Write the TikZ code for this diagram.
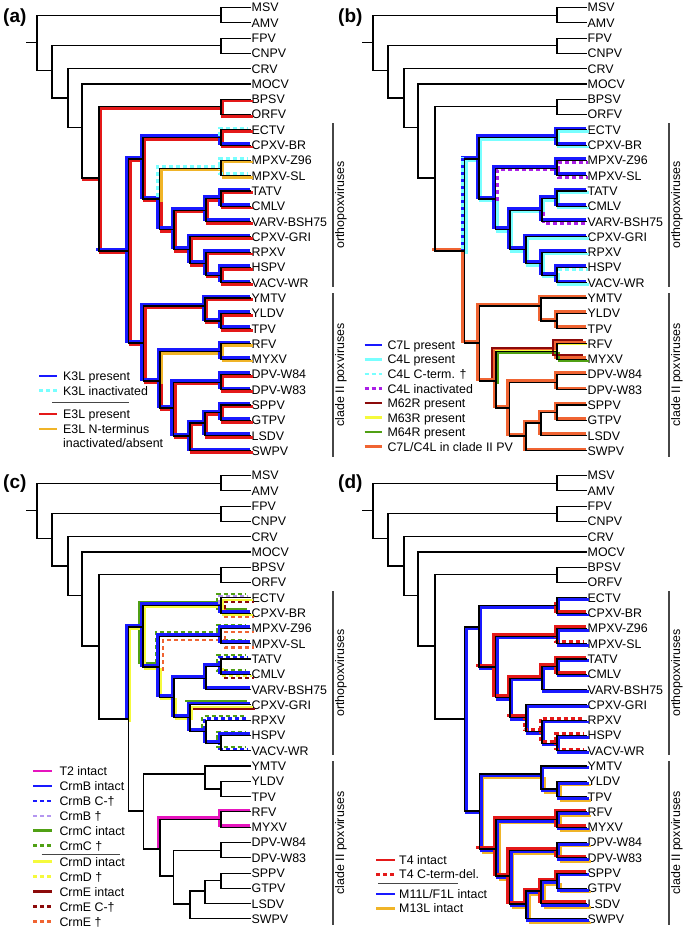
\documentclass[tikz,border=0pt]{standalone}
\usepackage{fontspec}
\setmainfont{Liberation Sans}
\definecolor{cblue}{RGB}{25,25,255}
\definecolor{cred}{RGB}{228,25,25}
\definecolor{ccyan}{RGB}{120,255,255}
\definecolor{corange}{RGB}{240,180,40}
\definecolor{cpurple}{RGB}{170,30,230}
\definecolor{cdred}{RGB}{140,10,10}
\definecolor{cyellow}{RGB}{245,250,60}
\definecolor{cgreen}{RGB}{80,160,20}
\definecolor{cored}{RGB}{240,100,50}
\definecolor{cmag}{RGB}{230,20,190}
\definecolor{clav}{RGB}{180,150,240}
\definecolor{cgray}{RGB}{70,70,70}
\tikzset{
 tr/.style={line width=1.1pt, line cap=rect, black},
 ov/.style={line width=2.8pt, line cap=rect},
 thin/.style={line width=2.2pt},
 ul/.style={transform canvas={shift={(-1.8pt,1.8pt)}}},
 dr/.style={transform canvas={shift={(1.8pt,-1.8pt)}}},
 ulB/.style={transform canvas={shift={(-3.8pt,3.8pt)}}},
 drB/.style={transform canvas={shift={(3.8pt,-3.8pt)}}},
 dsh/.style={line cap=butt, dash pattern=on 4pt off 3pt},
 lab/.style={anchor=west, inner sep=0pt, text height=8.9pt, text depth=0pt, font=\fontsize{12.4}{14}\selectfont},
 plab/.style={anchor=west, inner sep=0pt, font=\bfseries\fontsize{19}{22}\selectfont},
 glab/.style={rotate=90, inner sep=0pt, font=\fontsize{12.4}{14}\selectfont},
 bar/.style={cgray, line width=1.4pt},
 sw/.style={line width=2.6pt},
}
\def\leaflist{MSV/MSV,AMV/AMV,FPV/FPV,CNPV/CNPV,CRV/CRV,MOCV/MOCV,BPSV/BPSV,ORFV/ORFV,ECTV/ECTV,CPXVBR/CPXV-BR,MPXVZ/MPXV-Z96,MPXVS/MPXV-SL,TATV/TATV,CMLV/CMLV,VARV/VARV-BSH75,CPXVG/CPXV-GRI,RPXV/RPXV,HSPV/HSPV,VACV/VACV-WR,YMTV/YMTV,YLDV/YLDV,TPV/TPV,RFV/RFV,MYXV/MYXV,DPV84/DPV-W84,DPV83/DPV-W83,SPPV/SPPV,GTPV/GTPV,LSDV/LSDV,SWPV/SWPV}
\def\alledges{R/A,R/N1,A/MSV,A/AMV,N1/B,N1/N2,B/FPV,B/CNPV,N2/CRV,N2/N3,N3/MOCV,N3/N4,N4/C,N4/N5,C/BPSV,C/ORFV,N5/N6,N5/Nc,N6/P1,N6/N7,P1/ECTV,P1/CPXVBR,N7/P2,N7/N8,P2/MPXVZ,P2/MPXVS,N8/N9,N8/N10,N9/P3,N9/VARV,P3/TATV,P3/CMLV,N10/CPXVG,N10/N11,N11/RPXV,N11/P4,P4/HSPV,P4/VACV,Nc/Ny,Nc/Nr,Ny/YMTV,Ny/P5,P5/YLDV,P5/TPV,Nr/P6,Nr/Nd,P6/RFV,P6/MYXV,Nd/P7,Nd/Ns,P7/DPV84,P7/DPV83,Ns/Nsg,Ns/SWPV,Nsg/P8,Nsg/LSDV,P8/SPPV,P8/GTPV}
\def\Lbase{N4/C,C/BPSV,C/ORFV,N4/N5}
\def\Lo{N5/N6,N6/P1,N6/N7,P1/CPXVBR,N7/N8,N8/N9,N8/N10,N9/P3,N9/VARV,P3/TATV,P3/CMLV,N10/CPXVG,N10/N11,N11/RPXV,N11/P4,P4/HSPV,P4/VACV}
\def\Lect{P1/ECTV}
\def\Lmpx{N7/P2,P2/MPXVZ,P2/MPXVS}
\def\Lc{N5/Nc,Nc/Ny,Nc/Nr,Ny/YMTV,Ny/P5,P5/YLDV,P5/TPV,Nr/Nd,Nd/P7,Nd/Ns,P7/DPV84,P7/DPV83,Ns/Nsg,Ns/SWPV,Nsg/P8,Nsg/LSDV,P8/SPPV,P8/GTPV}
\def\Lrfv{Nr/P6,P6/RFV,P6/MYXV}
\newcommand\ov[2]{\edef\ovlist{#2}\draw[ov,#1] \foreach \p/\c in \ovlist {(\p) |- (\c)};}
\newcommand\ovh[2]{\edef\ovlist{#2}\draw[ov,#1] \foreach \p/\c in \ovlist {(\p |- \c) -- (\c)};}
\newcommand\mktree[1]{%
 \coordinate (R0) at (27,42.6);
 \coordinate (R) at (37,42.6);
 \coordinate (A) at (221,15.2);
 \coordinate (N1) at (52,70.6);
 \coordinate (B) at (221,45.75);
 \coordinate (N2) at (68,98);
 \coordinate (N3) at (82,127.3);
 \coordinate (N4) at (99,178);
 \coordinate (C) at (221,106.9);
 \coordinate (N5) at (128.5,251);
 \coordinate (N6) at (143,159);
 \coordinate (P1) at (221,137.4);
 \coordinate (N7) at (159.5,199);
 \coordinate (P2) at (221,168.1);
 \coordinate (N8) at (174,229.5);
 \coordinate (N9) at (206,210.1);
 \coordinate (P3) at (221,198.6);
 \coordinate (N10) at (190,249.5);
 \coordinate (N11) at (206,263.6);
 \coordinate (P4) at (221,275.1);
 \coordinate (Nc) at (143.3,343);
 \coordinate (Ny) at (205,306);
 \coordinate (P5) at (221,321);
 \coordinate (Nr) at (160,381);
 \coordinate (P6) at (221,351.5);
 \coordinate (Nd) at (173.5,408);
 \coordinate (P7) at (221,382.2);
 \coordinate (Ns) at (190,436);
 \coordinate (Nsg) at (205,423);
 \coordinate (P8) at (221,412.7);
 \foreach \n/\t [count=\i from 0] in \leaflist {\coordinate (\n) at (250,{7.5+15.29*\i}); \node[lab] (#1\n) at (251.5,{7.5+15.29*\i}) {\t};}
 \draw[bar] (333,123) coordinate (#1ob1) -- (333,287) coordinate (#1ob2);
 \node[glab] (#1ortho) at (341,205) {orthopoxviruses};
 \draw[bar] (333,293) coordinate (#1cb1) -- (333,457) coordinate (#1cb2);
 \node[glab] (#1clade) at (341,375) {clade II poxviruses};
}
\newcommand\drawtree{\draw[tr] (R0) -- (R) \foreach \p/\c in \alledges {(\p) |- (\c)};}
\begin{document}
\begin{tikzpicture}[x=1pt,y=-1pt]
\useasboundingbox[fill=white] (0,0) rectangle (687,930);
% ================= (a)
\begin{scope}
\mktree{a}
\ovh{cred,dr}{N3/N4}
\ov{cred,dr}{\Lbase,\Lo,\Lect,\Lc}
\ov{corange,dr,line width=2.4pt}{\Lmpx,\Lrfv}
\ovh{cblue,ul}{N4/N5}
\ov{cblue,ul}{\Lo,\Lc,\Lrfv}
\ov{ccyan,ul,dsh}{\Lect,\Lmpx}
\drawtree
\node[plab] (pa) at (3,18) {(a)};
\end{scope}
\draw[cblue,sw] (39,376) -- (57,376); \node[lab] (la1) at (63,376) {K3L present};
\draw[ccyan,sw,dsh] (39,390.7) -- (57,390.7); \node[lab] (la2) at (63,390.7) {K3L inactivated};
\draw[cgray,line width=1.2pt] (52,402.7) -- (129,402.7);
\draw[cred,sw] (39,414) -- (57,414); \node[lab] (la3) at (63,414) {E3L present};
\draw[corange,sw] (39,429) -- (57,429); \node[lab] (la4) at (63,429) {E3L N-terminus};
\node[lab] (la5) at (63,443.3) {inactivated/absent};
% ================= (b)
\begin{scope}[shift={(336,0)}]
\mktree{b}
\ovh{cored,ul}{N4/N5}
\ov{cored,ul}{\Lc,\Lrfv}
\ov{cyellow,thin}{Nr/P6,P6/RFV}
\ov{cgreen,dr,thin}{Nr/P6,P6/MYXV}
\ov{cdred,ulB,line width=2.2pt}{\Lrfv}
\ov{ccyan,dr}{N5/N6,N6/P1,N6/N7,P1/CPXVBR,P1/ECTV,N7/N8,N8/N9,N8/N10,N9/P3,P3/TATV,P3/CMLV,N10/CPXVG,N10/N11,N11/RPXV,N11/P4,P4/VACV}
\ov{ccyan,dr,dsh}{P4/HSPV}
\ov{cpurple,dr,dsh}{\Lmpx,N9/VARV}
\ov{cblue,ul}{\Lo,\Lect,\Lmpx}
\draw[ov,ccyan,ul,dsh] (N5) -- (N5 |- N6);
\drawtree
\node[plab] (pb) at (2,18) {(b)};
\end{scope}
\foreach \c/\s/\t [count=\i from 0] in {cblue/solid/{C7L present},ccyan/solid/{C4L present},ccyan/dsh/{C4L C-term. †},cpurple/dsh/{C4L inactivated},cdred/solid/{M62R present},cyellow/solid/{M63R present},cgreen/solid/{M64R present},cored/solid/{C7L/C4L in clade II PV}}
 {\draw[\c,sw,\s] (364.7,{345+14.53*\i}) -- (382.3,{345+14.53*\i}); \node[lab] (lb\i) at (387.3,{345+14.53*\i}) {\t};}
% ================= (c)
\begin{scope}[shift={(0,468)}]
\mktree{c}
\ov{cgreen,ulB,thin}{N6/P1,P1/CPXVBR,N6/N7}
\ovh{cgreen,ulB,thin}{N10/CPXVG}
\ov{cgreen,ulB,thin,dsh}{P1/ECTV,\Lmpx,P3/TATV,P3/CMLV,N11/RPXV,P4/HSPV,P4/VACV}
\ov{cyellow,dr,thin}{N5/N6,N6/P1,P1/ECTV,P1/CPXVBR,N6/N7,N7/N8,N8/N10,N10/CPXVG}
\ov{cyellow,dr,thin,dsh}{P3/CMLV}
\ovh{cdred,drB,thin}{N10/CPXVG}
\ov{cdred,drB,thin,dsh}{P1/ECTV,P3/CMLV}
\ov{cored,drB,thin,dsh}{P1/CPXVBR,\Lmpx}
\ov{cblue,ul}{N5/N6,N6/P1,P1/CPXVBR,N6/N7,\Lmpx,N7/N8,N8/N9,N9/P3,P3/CMLV,N9/VARV,N8/N10,N10/CPXVG,N10/N11,N11/P4,P4/HSPV}
\ov{cblue,ul,dsh}{P3/TATV,N11/RPXV,P4/VACV}
\ov{clav,ul,dsh}{P1/ECTV}
\ov{cmag,ul}{\Lrfv}
\drawtree
\node[plab] (pc) at (3,16) {(c)};
\end{scope}
\foreach \c/\s/\t [count=\i from 0] in {cmag/solid/{T2 intact},cblue/solid/{CrmB intact},cblue/dsh/{CrmB C-†},clav/dsh/{CrmB †},cgreen/solid/{CrmC intact},cgreen/dsh/{CrmC †}}
 {\draw[\c,sw,\s] (33,{771+14.94*\i}) -- (52,{771+14.94*\i}); \node[lab] (lc\i) at (59.3,{771+14.94*\i}) {\t};}
\draw[cgray,line width=1.2pt] (41.7,854.3) -- (120,854.3);
\foreach \c/\s/\t [count=\i from 0] in {cyellow/solid/{CrmD intact},cyellow/dsh/{CrmD †},cdred/solid/{CrmE intact},cdred/dsh/{CrmE C-†},cored/dsh/{CrmE †}}
 {\draw[\c,sw,\s] (33,{861.7+15*\i}) -- (52,{861.7+15*\i}); \node[lab] (ld\i) at (59.3,{861.7+15*\i}) {\t};}
% ================= (d)
\begin{scope}[shift={(336,468)}]
\mktree{d}
\ov{corange,drB,thin}{Nc/Ny,Nc/Nr,Ny/P5,P5/YLDV,P5/TPV,\Lrfv,Nr/Nd,Nd/P7,Nd/Ns,P7/DPV84,P7/DPV83,Ns/Nsg,Ns/SWPV,Nsg/P8,Nsg/LSDV,P8/GTPV}
\ov{cblue,dr}{\Lo,\Lect,\Lmpx,\Lc,\Lrfv}
\ovh{cred,ul}{N6/N7,Nc/Nr,N8/N10}
\ov{cred,ul}{N7/P2,P2/MPXVZ,N7/N8,N8/N9,N9/P3,P3/TATV,P3/CMLV,P1/CPXVBR,\Lrfv,Nr/Nd,Nd/P7,P7/DPV83,Nd/Ns,Ns/Nsg,Nsg/P8,Nsg/LSDV,P8/SPPV}
\ov{cred,ul,dsh}{P2/MPXVS,N10/N11,N11/RPXV,N11/P4,P4/HSPV,P4/VACV}
\drawtree
\node[plab] (pd) at (2,16) {(d)};
\end{scope}
\draw[cred,sw] (376.3,860) -- (394.7,860); \node[lab] (le1) at (399,860) {T4 intact};
\draw[cred,sw,dsh] (376.3,874.3) -- (394.7,874.3); \node[lab] (le2) at (399,874.3) {T4 C-term-del.};
\draw[cgray,line width=1.2pt] (378,883.3) -- (458,883.3);
\draw[cblue,sw] (376.3,894) -- (394.7,894); \node[lab] (le3) at (399,894) {M11L/F1L intact};
\draw[corange,sw] (376.3,908.3) -- (394.7,908.3); \node[lab] (le4) at (399,908.3) {M13L intact};
\end{tikzpicture}
\end{document}
